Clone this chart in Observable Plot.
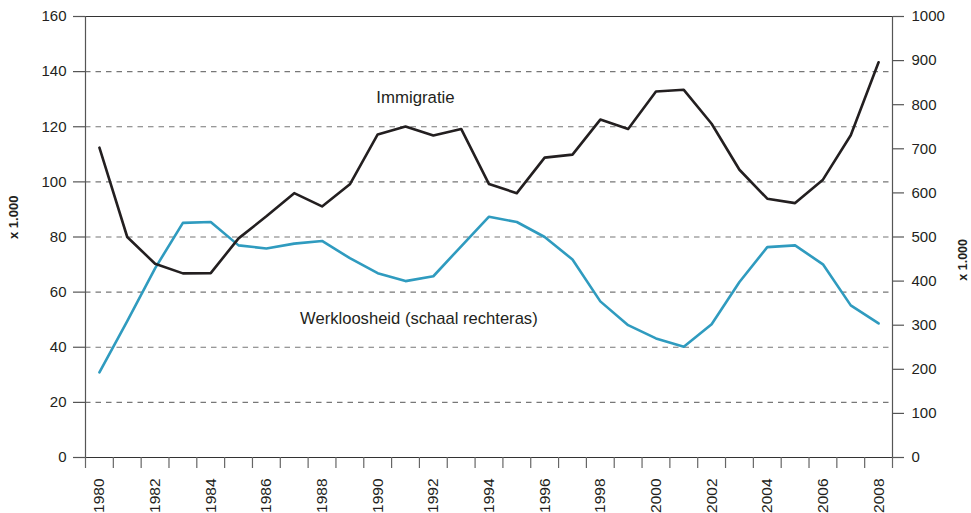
<!DOCTYPE html>
<html>
<head>
<meta charset="utf-8">
<script src="https://cdn.jsdelivr.net/npm/d3@7"></script>
<script src="https://cdn.jsdelivr.net/npm/@observablehq/plot@0.6"></script>
<style>
  html, body { margin: 0; padding: 0; background: #fff; }
  #chart svg { display: block; }
</style>
</head>
<body>
<div id="chart"></div>
<script>
// Years (x)
const years = [1980, 1981, 1982, 1983, 1984, 1985, 1986, 1987, 1988, 1989,
               1990, 1991, 1992, 1993, 1994, 1995, 1996, 1997, 1998, 1999,
               2000, 2001, 2002, 2003, 2004, 2005, 2006, 2007, 2008];

// Immigratie (left axis, x 1.000)
const immigratie = [112.4, 80.0, 70.3, 66.8, 66.9, 79.5, 87.5, 95.9, 91.1, 99.1,
                    117.2, 120.1, 116.8, 119.2, 99.2, 95.9, 108.8, 109.9, 122.6, 119.2,
                    132.8, 133.4, 121.1, 104.4, 93.9, 92.3, 100.8, 116.9, 143.4];

// Werkloosheid (right axis, x 1.000)
const werkloosheid = [193, 309, 429, 532, 534, 481, 474, 485, 491, 452,
                      418, 400, 411, 479, 546, 534, 500, 449, 354, 300,
                      270, 251, 302, 398, 477, 481, 438, 345, 304];

// Tick labels
const leftTicks = [0, 20, 40, 60, 80, 100, 120, 140, 160];
const rightTicks = [0, 100, 200, 300, 400, 500, 600, 700, 800, 900, 1000];
const xLabelYears = years.filter(y => y % 2 === 0);

// Series names
const labelImmigratie = "Immigratie";
const labelWerkloosheid = "Werkloosheid (schaal rechteras)";
const unitLabel = "x 1.000";

// Map right-axis values onto the left scale
const leftMax = leftTicks[leftTicks.length - 1];
const rightMax = rightTicks[rightTicks.length - 1];
const k = leftMax / rightMax;

const immData = years.map((year, i) => ({year, value: immigratie[i]}));
const werkData = years.map((year, i) => ({year, value: werkloosheid[i] * k}));
const boundaries = [...years.map(y => y - 0.5), years[years.length - 1] + 0.5];
const gridTicks = leftTicks.slice(1, -1);
const xDomain = [boundaries[0], boundaries[boundaries.length - 1]];

const font = "'Liberation Sans', Arial, Helvetica, sans-serif";

const chart = Plot.plot({
  width: 971,
  height: 513,
  marginLeft: 85,
  marginRight: 79,
  marginTop: 16,
  marginBottom: 56,
  style: {fontFamily: font, fontSize: "15px", color: "#231f20", background: "#fff"},
  x: {type: "linear", domain: xDomain},
  y: {domain: [0, leftMax]},
  marks: [
    // dashed gridlines
    Plot.ruleY(gridTicks, {stroke: "#777", strokeWidth: 1.1, strokeDasharray: "5.5,5"}),
    // frame top & bottom
    Plot.ruleY([0, leftMax], {stroke: "#333", strokeWidth: 1.2}),
    // vertical axis lines
    Plot.ruleX(xDomain, {stroke: "#555", strokeWidth: 1.2}),
    // left axis
    Plot.axisY({anchor: "left", ticks: leftTicks, tickSize: 12, tickPadding: 7,
      label: null, fontSize: 15, stroke: "#555", strokeWidth: 1.2}),
    // right axis
    Plot.axisY({anchor: "right", ticks: rightTicks.map(v => v * k), tickSize: 11, tickPadding: 8,
      tickFormat: d => String(Math.round(d / k)), label: null, fontSize: 15, stroke: "#555", strokeWidth: 1.2}),
    // x tick marks at year boundaries
    Plot.axisX({ticks: boundaries, tickSize: 11, tickFormat: () => "", label: null, stroke: "#666", strokeWidth: 1.2}),
    // x labels
    Plot.axisX({ticks: xLabelYears, tickSize: 0, tickPadding: 21, tickRotate: -90,
      tickFormat: d => String(d), label: null, fontSize: 15.5}),
    // series
    Plot.line(werkData, {x: "year", y: "value", stroke: "#2f9bbf", strokeWidth: 2.6}),
    Plot.line(immData, {x: "year", y: "value", stroke: "#231f20", strokeWidth: 2.6}),
    // series labels
    Plot.text([labelImmigratie], {x: 1989.95, y: 130.6, text: d => d, textAnchor: "start",
      fontSize: 16.8, fill: "#231f20"}),
    Plot.text([labelWerkloosheid], {x: 1987.21, y: 50.4, text: d => d, textAnchor: "start",
      fontSize: 16.6, fill: "#231f20"}),
    // unit labels
    Plot.text([unitLabel], {frameAnchor: "left", dx: -72, dy: 2, rotate: -90, text: d => d,
      fontSize: 13, fontWeight: "bold", fill: "#231f20"}),
    Plot.text([unitLabel], {frameAnchor: "right", dx: 70, dy: 2, rotate: -90, text: d => d,
      fontSize: 12.5, fontWeight: "bold", fill: "#231f20"})
  ]
});

document.getElementById("chart").appendChild(chart);
</script>
</body>
</html>
